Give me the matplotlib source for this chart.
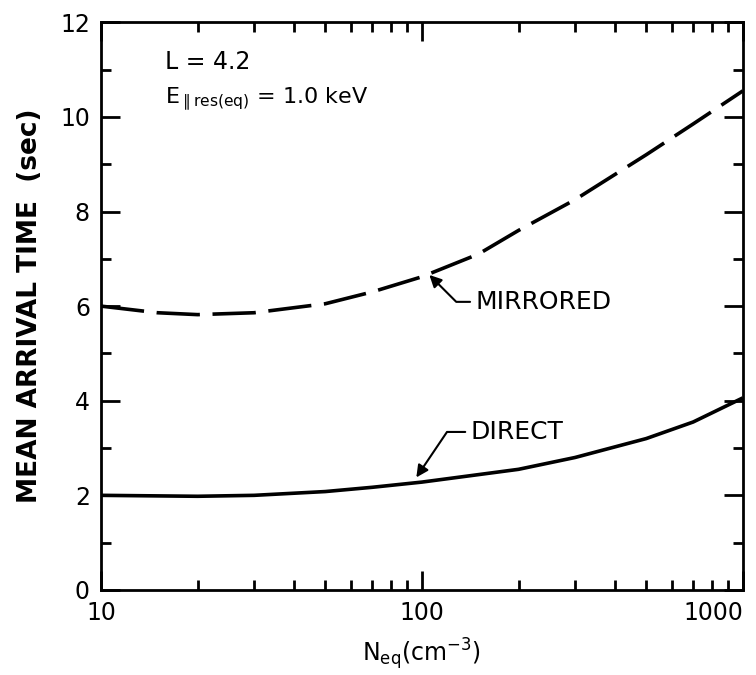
import matplotlib
matplotlib.use("Agg")
import matplotlib.pyplot as plt
from matplotlib.ticker import FixedLocator, NullFormatter

plt.rcParams['font.family'] = ['DejaVu Sans']
plt.rcParams['mathtext.default'] = 'regular'

#   Data
N_DIRECT = [10, 20, 30, 50, 70, 100, 200, 300, 500, 700, 1000]
T_DIRECT = [2.0, 1.98, 2.0, 2.08, 2.17, 2.28, 2.55, 2.8, 3.2, 3.55, 4.06]

N_MIRROR = [10, 15, 20, 30, 50, 70, 100, 150, 200, 300, 500, 700, 1000]
T_MIRROR = [6.0, 5.86, 5.82, 5.86, 6.05, 6.3, 6.62, 7.1, 7.6, 8.25, 9.2, 9.85, 10.55]

X_TICKS = [10, 100, 1000]
X_TICK_LABELS = ["10", "100", "1000"]
Y_TICKS = [0, 2, 4, 6, 8, 10, 12]

fig = plt.figure(figsize=(7.56, 6.75), dpi=100)
ax = fig.add_axes([0.1336, 0.126, 0.849, 0.841])

ax.plot(N_DIRECT, T_DIRECT, color='black', lw=2.6, solid_capstyle='butt')
ax.plot(N_MIRROR, T_MIRROR, color='black', lw=2.6, dashes=(12, 3.5))

ax.set_xscale('log')
ax.set_xlim(10, 1000)
ax.set_ylim(0, 12)

ax.xaxis.set_major_locator(FixedLocator(X_TICKS))
ax.set_xticklabels(X_TICK_LABELS)
ax.xaxis.set_minor_locator(FixedLocator([v * d for d in (10, 100) for v in range(2, 10)]))
ax.xaxis.set_minor_formatter(NullFormatter())
ax.set_yticks(Y_TICKS)
ax.set_yticks(range(1, 12, 2), minor=True)

ax.tick_params(which='both', direction='in', top=True, right=True, width=2,
               labelsize=17, pad=8)
ax.tick_params(which='major', length=14)
ax.tick_params(which='minor', length=7)
ax.get_xticklabels()[-1].set_horizontalalignment('right')
for s in ax.spines.values():
    s.set_linewidth(2)

ax.set_ylabel("MEAN ARRIVAL TIME  (sec)", fontsize=19, labelpad=12,
              fontweight='bold')
ax.set_xlabel("N$_{eq}$(cm$^{-3}$)", fontsize=17, labelpad=8)

ax.text(0.1, 0.93, "L = 4.2", transform=ax.transAxes, fontsize=17, va='center')
ax.text(0.1, 0.865, r"E$_{\parallel res(eq)}$ = 1.0 keV", transform=ax.transAxes,
        fontsize=16, va='center')

ax.annotate("MIRRORED", xy=(104, 6.70), xytext=(147, 6.09), fontsize=18,
            va='center', ha='left',
            arrowprops=dict(arrowstyle='-|>', color='black', lw=1.5,
                            connectionstyle='angle,angleA=0,angleB=-45,rad=0'))
ax.annotate("DIRECT", xy=(95, 2.33), xytext=(142, 3.34), fontsize=18,
            va='center', ha='left',
            arrowprops=dict(arrowstyle='-|>', color='black', lw=1.5,
                            connectionstyle='angle,angleA=0,angleB=56,rad=0'))

fig.savefig("out.png", dpi=100)
